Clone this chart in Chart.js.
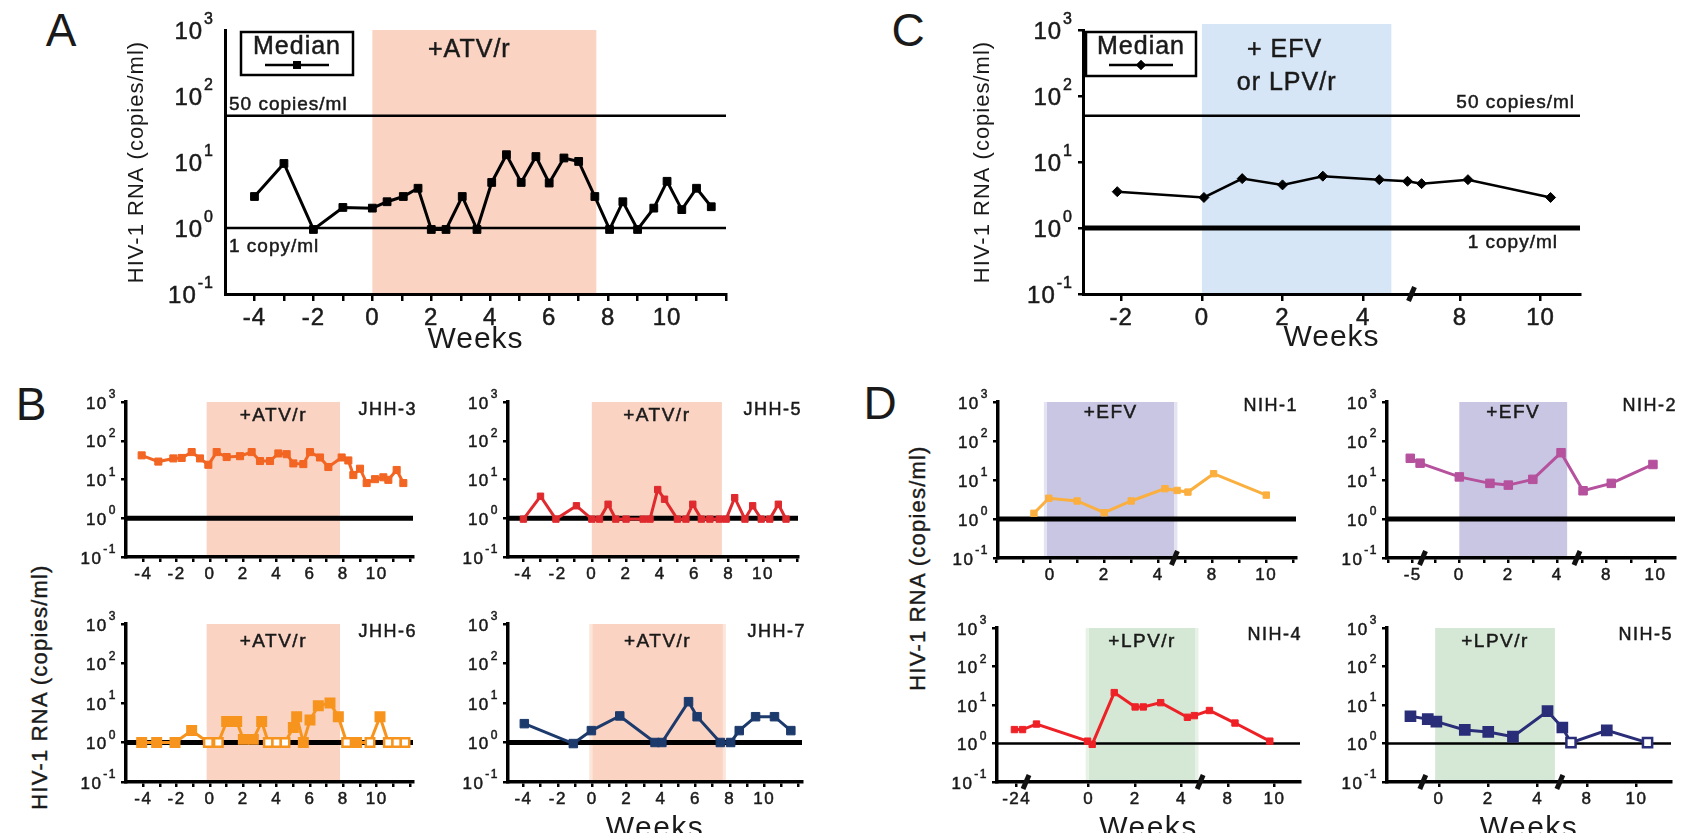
<!DOCTYPE html>
<html>
<head>
<meta charset="utf-8">
<title>HIV-1 RNA during treatment intensification</title>
<script src="https://cdn.jsdelivr.net/npm/chart.js@4.4.1/dist/chart.umd.min.js"></script>
<style>
  html, body { margin: 0; padding: 0; background: #fff; }
  body { position: relative; width: 1682px; height: 833px; overflow: hidden; font-family: "Liberation Sans", Arial, sans-serif; color: #1a1a1a; }
  canvas { position: absolute; }
  .letter { position: absolute; font-size: 46px; line-height: 1; transform: translate(-50%, -50%); }
  .ytitle { position: absolute; font-size: 22px; letter-spacing: 1.2px; -webkit-text-stroke: 0.4px #1a1a1a; white-space: nowrap; transform: translate(-50%, -50%) rotate(-90deg); }
</style>
</head>
<body>
<div class="letter" style="left:61px;top:30px">A</div>
<div class="letter" style="left:31px;top:404px">B</div>
<div class="letter" style="left:908px;top:30px">C</div>
<div class="letter" style="left:880px;top:403px">D</div>
<div class="ytitle" style="left:40px;top:687px">HIV-1 RNA (copies/ml)</div>
<div class="ytitle" style="left:918px;top:568px">HIV-1 RNA (copies/ml)</div>
<script>
// log axis used by every panel, labelled 10^n
const yTicks = [0.1, 1, 10, 100, 1000];
const yTickExponents = ['-1', '0', '1', '2', '3'];

// week ticks / labels
const ticksJHH = [-4, -3, -2, -1, 0, 1, 2, 3, 4, 5, 6, 7, 8, 9, 10, 11, 12];
const labelsJHH = [-4, -2, 0, 2, 4, 6, 8, 10];
const ticksC = [-2, 0, 2, 4, 8, 10];
const ticksNIH1 = [-2, -1, 0, 1, 2, 3, 4, 7, 8, 9, 10, 11];
const labelsNIH1 = [0, 2, 4, 8, 10];
const ticksNIH2 = [-6, -5, -1, 0, 1, 2, 3, 4, 7, 8, 9, 10];
const labelsNIH2 = [-5, 0, 2, 4, 8, 10];
const ticksNIH4 = [-24, 0, 2, 4, 8, 10];
const ticksNIH5 = [0, 2, 4, 8, 10];

// A: median, ATV/r intensification
const weeksA = [-4, -3, -2, -1, 0, 0.5, 1.05, 1.55, 2, 2.5, 3.05, 3.55, 4.05, 4.55, 5.05, 5.55, 6, 6.5, 7, 7.55, 8.05, 8.5, 9, 9.55, 10, 10.5, 11, 11.5];
const medianA = [3.0, 9.5, 0.95, 2.05, 2.0, 2.5, 3.0, 4.0, 0.95, 0.95, 3.0, 0.95, 4.9, 12.9, 4.9, 12.1, 4.8, 11.5, 10.2, 3.0, 0.95, 2.5, 0.95, 2.0, 5.1, 1.9, 4.0, 2.1];

// C: median, EFV or LPV/r intensification
const weeksC = [-2.1, 0.05, 1.0, 2.0, 3.0, 4.4, 5.1, 7.05, 8.2, 10.25];
const medianC = [3.55, 2.9, 5.6, 4.5, 6.1, 5.4, 5.1, 4.7, 5.4, 2.9];

// B: JHH participants
const weeksJHH3 = [-4.1, -3.1, -2.2, -1.7, -1.1, -0.6, -0.1, 0.4, 1.0, 1.8, 2.5, 3.0, 3.6, 4.1, 4.6, 5.0, 5.6, 6.0, 6.6, 7.1, 7.9, 8.3, 8.6, 9.0, 9.4, 9.9, 10.4, 10.7, 11.2, 11.6];
const valuesJHH3 = [42, 29, 35, 36, 51, 35, 24, 51, 38, 40, 51, 30, 30, 47, 45, 26, 25, 51, 37, 21, 37, 31, 13, 19, 8.1, 10.2, 11.4, 9.8, 17.6, 8.1];

const weeksJHH5 = [-4.0, -3.0, -2.1, -0.9, 0, 0.45, 0.95, 1.4, 2.0, 3.0, 3.4, 3.85, 4.25, 5.0, 5.5, 5.9, 6.4, 6.9, 7.45, 7.85, 8.35, 8.95, 9.4, 9.9, 10.4, 10.9, 11.35];
const valuesJHH5 = [0.95, 3.7, 0.95, 2.1, 0.95, 0.95, 2.3, 0.95, 0.95, 0.95, 0.95, 5.5, 3.1, 0.95, 0.95, 2.3, 0.95, 0.95, 0.95, 0.95, 3.4, 0.95, 2.1, 0.95, 0.95, 2.3, 0.95];

const weeksJHH6 = [-4.1, -3.2, -2.1, -1.1, -0.1, 0.5, 1.0, 1.6, 2.0, 2.6, 3.1, 3.5, 4.0, 4.5, 5.0, 5.2, 5.6, 6.0, 6.5, 7.2, 7.7, 8.2, 8.8, 9.6, 10.2, 10.7, 11.2, 11.7];
const valuesJHH6 = [1, 1, 1, 2.0, 1, 1, 3.4, 3.4, 1.2, 1.2, 3.4, 1, 1, 1, 2.4, 4.5, 1, 3.7, 8.5, 10, 4.5, 1, 1, 1, 4.5, 1, 1, 1];
// open symbols: sample below the limit of detection
const openJHH6 = [0, 0, 0, 0, 1, 1, 0, 0, 0, 0, 0, 1, 1, 1, 0, 0, 0, 0, 0, 0, 0, 1, 0, 1, 0, 1, 1, 1];

const weeksJHH7 = [-3.95, -1.1, -0.05, 1.6, 3.65, 4.05, 5.6, 6.1, 7.45, 8.05, 8.55, 9.5, 10.6, 11.55];
const valuesJHH7 = [3.0, 0.94, 2.0, 4.7, 1, 1, 10.8, 4.5, 1, 1, 2.0, 4.5, 4.5, 2.0];

// D: NIH participants
const weeksNIH1 = [-0.6, -0.05, 1.0, 2.0, 3.0, 4.25, 6.7, 7.1, 8.05, 10.0];
const valuesNIH1 = [1.4, 3.4, 2.9, 1.45, 2.9, 6.0, 5.4, 4.9, 14.5, 4.1];

const weeksNIH2 = [-5.1, -4.7, 0, 1.25, 2.0, 3.0, 4.15, 7.05, 8.2, 9.9];
const valuesNIH2 = [36, 27, 12, 8.2, 7.4, 10.4, 50, 5.3, 8.2, 25];

const weeksNIH4 = [-24.1, -23.75, -2.25, -0.05, 0.15, 1.1, 2.0, 2.35, 3.1, 4.25, 4.55, 7.2, 8.3, 9.8];
const valuesNIH4 = [2.3, 2.3, 3.2, 1.15, 0.95, 21, 8.9, 8.9, 11.5, 4.8, 5.3, 7.2, 3.4, 1.15];

const weeksNIH5 = [-24.0, -0.45, -0.1, 1.05, 2.0, 3.0, 4.4, 7.0, 7.35, 8.8, 10.45];
const valuesNIH5 = [5.1, 4.3, 3.7, 2.25, 2.0, 1.5, 6.9, 2.6, 1.05, 2.2, 1.05];
const openNIH5 = [0, 0, 0, 0, 0, 0, 0, 0, 1, 0, 1];

const PEACH = '#FAD3C3';
const BLUE = '#D6E6F6';
const LAVENDER = '#C8C6E2';
const GREEN = '#D5E8D5';
const FONT = '"Liberation Sans", Arial, sans-serif';
const INK = '#1a1a1a';

// linear week axis with gaps cut out of it (axis breaks)
class BrokenLinearScale extends Chart.LinearScale {
  static id = 'brokenLinear';
  fold(v) {
    let out = v;
    for (const b of this.breakList || []) {
      if (v >= b.to) out -= b.to - b.from;
      else if (v > b.from) out -= v - b.from;
    }
    return out;
  }
  getPixelForValue(value) {
    if (value === null || value === undefined || isNaN(value)) return NaN;
    const lo = this.fold(this.min), hi = this.fold(this.max);
    return this.getPixelForDecimal((this.fold(value) - lo) / (hi - lo));
  }
  getValueForPixel(pixel) {
    const lo = this.fold(this.min), hi = this.fold(this.max);
    let v = lo + this.getDecimalForPixel(pixel) * (hi - lo);
    for (const b of this.breakList || []) if (v > b.from) v += b.to - b.from;
    return v;
  }
}
Chart.register(BrokenLinearScale);

function series(weeks, values, color, opts) {
  opts = opts || {};
  const open = opts.open || [];
  return {
    data: weeks.map((w, i) => ({x: w, y: values[i]})),
    borderColor: color,
    backgroundColor: color,
    borderWidth: opts.width || 3,
    pointStyle: opts.style || 'rect',
    pointRadius: opts.radius || 5.5,
    pointBorderWidth: opts.pointBorder || 1,
    pointBorderColor: color,
    pointBackgroundColor: weeks.map((w, i) => open[i] ? '#fff' : color),
    tension: 0
  };
}

// filled text with a hairline outline, a little heavier than plain fillText
function inkText(ctx, text, x, y) {
  ctx.fillText(text, x, y);
  ctx.strokeText(text, x, y);
}

function decor(p) {
  const spacing = p.big ? '1px' : '1.5px';
  return {
    id: 'decor',
    beforeDraw(chart) {
      const {ctx, chartArea: ca, scales: {x, y}} = chart;
      ctx.letterSpacing = spacing;
      ctx.save();
      if (p.shade) {
        const x0 = x.getPixelForValue(p.shade.from), x1 = x.getPixelForValue(p.shade.to);
        const top = ca.top - (p.shade.rise || 0);
        ctx.fillStyle = p.shade.color;
        ctx.fillRect(x0, top, x1 - x0, ca.bottom - top);
        if (p.shade.edge) {
          ctx.fillStyle = p.shade.edge;
          ctx.fillRect(x0 - 3, top, 3, ca.bottom - top);
          ctx.fillRect(x1, top, 3, ca.bottom - top);
        }
      }
      ctx.strokeStyle = '#000';
      for (const r of p.refLines) {
        const py = y.getPixelForValue(r.value);
        ctx.lineWidth = r.width;
        ctx.beginPath();
        ctx.moveTo(ca.left, py);
        ctx.lineTo(ca.right, py);
        ctx.stroke();
      }
      ctx.restore();
    },
    afterDraw(chart) {
      const {ctx, chartArea: ca, scales: {x, y}} = chart;
      ctx.save();
      ctx.letterSpacing = spacing;
      ctx.textBaseline = 'middle';
      ctx.fillStyle = INK;
      ctx.strokeStyle = INK;
      ctx.lineWidth = 0.5;

      // 10^n labels on the log axis
      const base = p.big ? 24 : 17, sup = p.big ? 16 : 12;
      const edge = ca.left - p.yLabelGap;
      yTicks.forEach((v, i) => {
        const py = y.getPixelForValue(v);
        ctx.textAlign = 'right';
        ctx.font = sup + 'px ' + FONT;
        const ew = ctx.measureText(yTickExponents[i]).width;
        inkText(ctx, yTickExponents[i], edge, py - base * 0.42);
        ctx.font = base + 'px ' + FONT;
        inkText(ctx, '10', edge - ew - 1, py + 2);
      });

      if (p.shadeText) {
        const cx = (x.getPixelForValue(p.shade.from) + x.getPixelForValue(p.shade.to)) / 2;
        ctx.textAlign = 'center';
        for (const t of p.shadeText) {
          ctx.font = t.size + 'px ' + FONT;
          inkText(ctx, t.text, cx + (t.dx || 0), ca.top + t.dy);
        }
      }
      if (p.tag) {
        ctx.textAlign = 'right';
        ctx.font = p.tag.size + 'px ' + FONT;
        inkText(ctx, p.tag.text, ca.right + p.tag.dx, ca.top + p.tag.dy);
      }
      for (const r of p.refLabels || []) {
        ctx.font = r.size + 'px ' + FONT;
        ctx.textAlign = r.side;
        const px = r.side === 'left' ? ca.left + r.dx : ca.right + r.dx;
        inkText(ctx, r.text, px, y.getPixelForValue(r.value) + r.dy);
      }
      if (p.legend) {
        const L = p.legend, ds = chart.data.datasets[0];
        const bx = ca.left + L.dx, by = ca.top + L.dy, cx = bx + L.w / 2;
        ctx.textAlign = 'center';
        ctx.font = '25px ' + FONT;
        inkText(ctx, 'Median', cx, by + 15);
        ctx.lineWidth = 2.5;
        ctx.strokeStyle = '#000';
        ctx.strokeRect(bx, by, L.w, L.h);
        ctx.beginPath();
        ctx.moveTo(cx - 32, by + 33);
        ctx.lineTo(cx + 32, by + 33);
        ctx.stroke();
        ctx.fillStyle = ds.borderColor;
        Chart.helpers.drawPoint(ctx, {pointStyle: ds.pointStyle, radius: ds.pointRadius, borderWidth: 0}, cx, by + 33);
        ctx.fill();
      }
      // axis break marks
      ctx.strokeStyle = '#111';
      ctx.lineWidth = 5;
      for (const b of p.x.breaks) {
        const px = x.getPixelForValue(b.from);
        ctx.beginPath();
        ctx.moveTo(px - 3, ca.bottom + 7);
        ctx.lineTo(px + 3, ca.bottom - 7);
        ctx.stroke();
      }
      ctx.restore();
    }
  };
}

function mountPanel(p) {
  const a = p.area;
  const tickSize = p.big ? 24 : 17;
  const yLH = p.yTitle ? p.yTitle.size * 1.2 : 0;
  const xLH = p.xTitle ? p.xTitle.size * 1.2 : 0;
  const left = p.yTitle ? Math.round(p.yTitle.x - yLH / 2) : a.l - (p.big ? 90 : 64);
  const top = a.t - 24;
  const right = a.r + 16;
  const bottom = p.xTitle ? Math.round(p.xTitle.y + xLH / 2) : a.b + 36;

  const canvas = document.createElement('canvas');
  canvas.width = right - left;
  canvas.height = bottom - top;
  canvas.style.left = left + 'px';
  canvas.style.top = top + 'px';
  document.body.appendChild(canvas);

  new Chart(canvas, {
    type: 'line',
    data: {datasets: p.datasets},
    options: {
      responsive: false,
      animation: false,
      devicePixelRatio: 1,
      events: [],
      layout: {padding: {left: 0, top: 24, right: 16, bottom: 0}},
      plugins: {legend: {display: false}, tooltip: {enabled: false}},
      scales: {
        x: {
          type: 'brokenLinear',
          min: p.x.min,
          max: p.x.max,
          bounds: 'data',
          beforeUpdate: s => { s.breakList = p.x.breaks; },
          afterBuildTicks: s => { s.ticks = p.x.ticks.map(v => ({value: v})); },
          afterFit: s => { s.height = bottom - a.b; },
          ticks: {
            autoSkip: false, maxRotation: 0, padding: p.big ? 3 : 2, color: INK,
            textStrokeColor: INK, textStrokeWidth: 0.5,
            font: {family: FONT, size: tickSize},
            callback: v => p.x.labels.includes(v) ? String(v) : ''
          },
          grid: {display: true, drawOnChartArea: false, drawTicks: true, tickLength: p.big ? 7 : 5, color: '#000', lineWidth: 2.5},
          border: {display: true, color: '#000', width: p.big ? 3 : 3.5},
          title: {display: !!p.xTitle, text: 'Weeks', color: INK, padding: 0,
                  font: {family: FONT, size: p.xTitle ? p.xTitle.size : 12, lineHeight: 1.2}}
        },
        y: {
          type: 'logarithmic',
          min: 0.1,
          max: 1000,
          afterBuildTicks: s => { s.ticks = yTicks.map(v => ({value: v})); },
          afterFit: s => { s.width = a.l - left; },
          // labels are drawn as 10^n by the decor plugin
          ticks: {callback: () => ''},
          grid: {display: p.yTickLen > 0, drawOnChartArea: false, drawTicks: true, tickLength: p.yTickLen, color: '#000', lineWidth: 2.5},
          border: {display: true, color: '#000', width: p.big ? 3 : 3.5},
          title: {display: !!p.yTitle, text: 'HIV-1 RNA (copies/ml)', color: INK, padding: 0,
                  font: {family: FONT, size: p.yTitle ? p.yTitle.size : 12, lineHeight: 1.2}}
        }
      }
    },
    plugins: [decor(p)]
  });
}

const jhhTag = (t) => ({text: t, dx: 4, dy: 8, size: 18});
const nihTag = (t, dy) => ({text: t, dx: 2, dy: dy, size: 18});

const panels = [
  { // A
    area: {l: 225, t: 30, r: 726, b: 294}, big: true, yTickLen: 0, yLabelGap: 11,
    x: {min: -5, max: 12, breaks: [], ticks: ticksJHH, labels: labelsJHH},
    yTitle: {x: 137, size: 22}, xTitle: {y: 340, size: 30},
    shade: {from: 0, to: 7.6, color: PEACH},
    refLines: [{value: 50, width: 2.5}, {value: 1, width: 2.5}],
    refLabels: [{text: '50 copies/ml', value: 50, side: 'left', dx: 4, dy: -11, size: 19},
                {text: '1 copy/ml', value: 1, side: 'left', dx: 4, dy: 19, size: 19}],
    shadeText: [{text: '+ATV/r', dx: -15, dy: 20, size: 25}],
    legend: {dx: 16, dy: 2, w: 112, h: 43},
    datasets: [series(weeksA, medianA, '#000', {width: 3, radius: 5.5})]
  },
  { // C
    area: {l: 1083, t: 30, r: 1580, b: 294}, big: true, yTickLen: 5, yLabelGap: 10,
    x: {min: -2.95, max: 10.98, breaks: [{from: 5.2, to: 6.8}], ticks: ticksC, labels: ticksC},
    yTitle: {x: 983, size: 22}, xTitle: {y: 338, size: 30},
    shade: {from: 0, to: 4.7, color: BLUE, rise: 6},
    refLines: [{value: 50, width: 2.5}, {value: 1, width: 5}],
    refLabels: [{text: '50 copies/ml', value: 50, side: 'right', dx: -5, dy: -13, size: 19},
                {text: '1 copy/ml', value: 1, side: 'right', dx: -22, dy: 15, size: 19}],
    shadeText: [{text: '+ EFV', dx: -12, dy: 20, size: 25}, {text: 'or LPV/r', dx: -10, dy: 53, size: 25}],
    legend: {dx: 3, dy: 2, w: 110, h: 44},
    datasets: [series(weeksC, medianC, '#000', {width: 2.5, radius: 5, style: 'rectRot'})]
  },
  { // JHH-3
    area: {l: 126, t: 402, r: 413, b: 557}, yTickLen: 5, yLabelGap: 9,
    x: {min: -5.04, max: 12.18, breaks: [], ticks: ticksJHH, labels: labelsJHH},
    shade: {from: -0.2, to: 7.8, color: PEACH},
    refLines: [{value: 1, width: 5}],
    shadeText: [{text: '+ATV/r', dy: 14, size: 19}],
    tag: jhhTag('JHH-3'),
    datasets: [series(weeksJHH3, valuesJHH3, '#F26522', {width: 3, radius: 5})]
  },
  { // JHH-5
    area: {l: 508, t: 402, r: 798, b: 557}, yTickLen: 5, yLabelGap: 9,
    x: {min: -4.9, max: 12.05, breaks: [], ticks: ticksJHH, labels: labelsJHH},
    shade: {from: 0, to: 7.6, color: PEACH},
    refLines: [{value: 1, width: 5}],
    shadeText: [{text: '+ATV/r', dy: 14, size: 19}],
    tag: jhhTag('JHH-5'),
    datasets: [series(weeksJHH5, valuesJHH5, '#DF2A2E', {width: 3, radius: 4.5})]
  },
  { // JHH-6
    area: {l: 126, t: 624, r: 413, b: 782}, yTickLen: 5, yLabelGap: 9,
    x: {min: -5.04, max: 12.18, breaks: [], ticks: ticksJHH, labels: labelsJHH},
    shade: {from: -0.2, to: 7.8, color: PEACH},
    refLines: [{value: 1, width: 5}],
    shadeText: [{text: '+ATV/r', dy: 18, size: 19}],
    tag: jhhTag('JHH-6'),
    datasets: [series(weeksJHH6, valuesJHH6, '#F7941E', {width: 3, radius: 6, pointBorder: 2.5, open: openJHH6})]
  },
  { // JHH-7
    area: {l: 508, t: 624, r: 802, b: 782}, yTickLen: 5, yLabelGap: 9,
    x: {min: -4.9, max: 12.2, breaks: [], ticks: ticksJHH, labels: labelsJHH},
    xTitle: {y: 829, size: 30},
    shade: {from: 0, to: 7.6, color: PEACH, edge: '#FCE6DC'},
    refLines: [{value: 1, width: 5}],
    shadeText: [{text: '+ATV/r', dy: 18, size: 19}],
    tag: jhhTag('JHH-7'),
    datasets: [series(weeksJHH7, valuesJHH7, '#1C3A6B', {width: 3, radius: 6})]
  },
  { // NIH-1
    area: {l: 998, t: 402, r: 1296, b: 558}, yTickLen: 5, yLabelGap: 9,
    x: {min: -1.93, max: 11.1, breaks: [{from: 4.6, to: 6.6}], ticks: ticksNIH1, labels: labelsNIH1},
    shade: {from: -0.12, to: 4.6, color: LAVENDER, edge: '#E4E3F1'},
    refLines: [{value: 1, width: 5}],
    shadeText: [{text: '+EFV', dy: 11, size: 19}],
    tag: nihTag('NIH-1', 4),
    datasets: [series(weeksNIH1, valuesNIH1, '#FBAF3F', {width: 3, radius: 4.5})]
  },
  { // NIH-2
    area: {l: 1387, t: 402, r: 1675, b: 558}, yTickLen: 5, yLabelGap: 9,
    x: {min: -6.05, max: 10.8, breaks: [{from: -4.6, to: -1.5}, {from: 4.8, to: 6.8}], ticks: ticksNIH2, labels: labelsNIH2},
    shade: {from: 0, to: 4.4, color: LAVENDER},
    refLines: [{value: 1, width: 5}],
    shadeText: [{text: '+EFV', dy: 11, size: 19}],
    tag: nihTag('NIH-2', 4),
    datasets: [series(weeksNIH2, valuesNIH2, '#B5519D', {width: 3, radius: 6})]
  },
  { // NIH-4
    area: {l: 997, t: 628, r: 1300, b: 782}, yTickLen: 5, yLabelGap: 9,
    x: {min: -24.85, max: 11.1, breaks: [{from: -23.6, to: -2.7}, {from: 4.8, to: 6.8}], ticks: ticksNIH4, labels: ticksNIH4},
    xTitle: {y: 829, size: 30},
    shade: {from: 0, to: 4.6, color: GREEN, edge: '#E7F1E6'},
    refLines: [{value: 1, width: 2.5}],
    shadeText: [{text: '+LPV/r', dy: 14, size: 19}],
    tag: nihTag('NIH-4', 7),
    datasets: [series(weeksNIH4, valuesNIH4, '#EE2127', {width: 3, radius: 4.5})]
  },
  { // NIH-5
    area: {l: 1387, t: 628, r: 1671, b: 782}, yTickLen: 5, yLabelGap: 9,
    x: {min: -24.95, max: 11.4, breaks: [{from: -23.5, to: -0.65}, {from: 4.9, to: 6.9}], ticks: ticksNIH5, labels: ticksNIH5},
    xTitle: {y: 829, size: 30},
    shade: {from: -0.15, to: 4.7, color: GREEN},
    refLines: [{value: 1, width: 2.5}],
    shadeText: [{text: '+LPV/r', dy: 14, size: 19}],
    tag: nihTag('NIH-5', 7),
    datasets: [series(weeksNIH5, valuesNIH5, '#2A2D78', {width: 3, radius: 6.5, pointBorder: 2.5, open: openNIH5})]
  }
];

panels.forEach(mountPanel);
</script>
</body>
</html>
